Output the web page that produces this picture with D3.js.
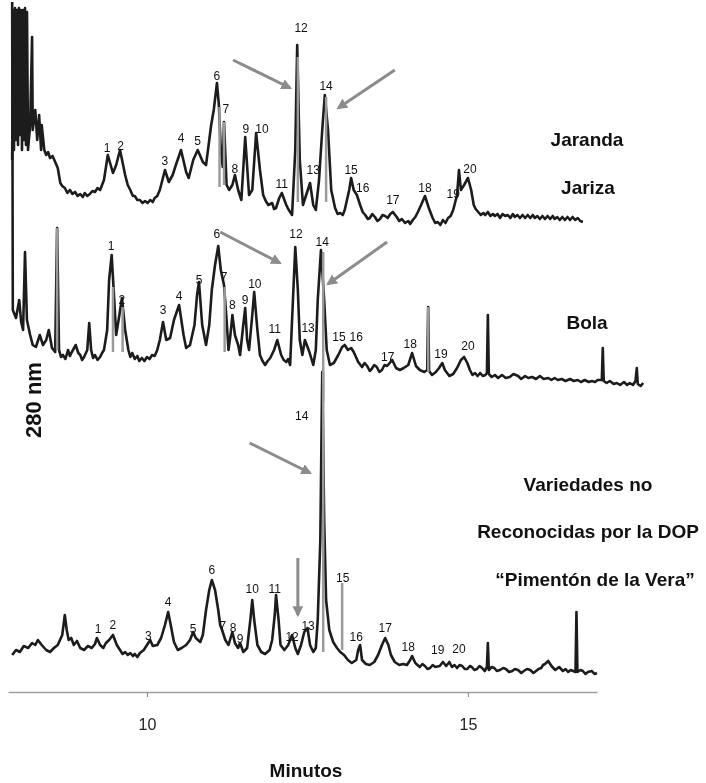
<!DOCTYPE html>
<html><head><meta charset="utf-8">
<script src="https://cdn.jsdelivr.net/npm/d3@7"></script>
<style>
body{margin:0;background:#fff}
svg{display:block;will-change:transform}
text{font-family:"Liberation Sans",Arial,Helvetica,sans-serif;-webkit-font-smoothing:antialiased}
</style>
</head><body>
<svg id="c" width="706" height="783"></svg>
<script>
// ---------- DATA (time in minutes, signal in arbitrary absorbance units at 280 nm) ----------
const timeTicks = [10, 15];
const xTitle = "Minutos";
const yTitle = "280 nm";

const traceJaranda = [
[7.90,13.4],[7.913,43.4],[7.928,15.4],[7.944,43.8],[7.960,17.4],[7.975,43.4],[7.991,16.4],[8.006,43.8],[8.022,18.4],[8.037,43.4],[8.053,15.4],[8.069,43.4],[8.084,17.4],[8.100,43.8],[8.115,16.4],[8.131,43],[8.147,15.4],
[8.18,20.4],[8.21,38],[8.22,19.4],[8.26,23.4],[8.29,17.4],[8.32,22.4],[8.35,15.4],[8.36,20.4],[8.40,15.4],[8.43,14.4],[8.46,15],[8.49,13.8],[8.53,14.2],[8.57,13],[8.61,11.8],[8.65,8.8],[8.68,8.2],[8.72,7.8],[8.76,6.8],[8.80,7.4],[8.84,6.6],[8.88,7],[8.92,6.2],[8.96,6.6],[9.00,6],[9.03,6.8],[9.07,6.2],[9.11,6.6],[9.15,7.2],[9.19,7],[9.23,7.8],[9.27,7.4],[9.33,9.4],[9.39,14.4],[9.47,10.8],[9.52,12.4],[9.58,15.4],[9.66,10.4],[9.70,8.4],[9.74,7.4],[9.78,6.2],[9.81,6.2],[9.85,5.4],[9.89,5.4],[9.93,4.8],[9.97,5.2],[10.01,4.8],[10.05,5.4],[10.09,5],[10.12,5.8],[10.16,6.2],[10.20,7.4],[10.28,11.4],[10.34,9],[10.40,10.4],[10.45,12.4],[10.53,15.4],[10.61,11],[10.65,9.8],[10.72,13.4],[10.79,15.4],[10.87,13],[10.92,12.4],[10.97,17.4],[11.00,20.4],[11.04,23.4],[11.09,28.8],[11.12,24.4],[11.15,15.4],[11.18,12],[11.20,21],[11.24,8.4],[11.28,7.4],[11.33,8.4],[11.37,10.4],[11.42,7.4],[11.47,5.4],[11.53,18],[11.59,6.4],[11.64,7.4],[11.70,18.8],[11.76,11.4],[11.81,6.4],[11.85,5.2],[11.89,4.4],[11.95,4.8],[11.98,3.6],[12.01,3.8],[12.06,5.8],[12.10,6.8],[12.17,4.4],[12.20,3.6],[12.23,3],[12.26,2.4],[12.31,15.4],[12.34,36.4],[12.38,13.4],[12.43,4.4],[12.48,6.4],[12.54,8.8],[12.59,4.4],[12.63,3.4],[12.68,9.4],[12.73,19.4],[12.77,26.4],[12.82,19.4],[12.87,7.4],[12.93,3.8],[12.97,2.6],[13.01,2.8],[13.05,2.4],[13.08,3.4],[13.15,7.4],[13.18,9.8],[13.22,7.4],[13.27,6.4],[13.32,4.4],[13.36,3],[13.40,2.4],[13.44,1.6],[13.47,1.8],[13.51,2.6],[13.55,2],[13.59,1.2],[13.63,1.6],[13.67,2.4],[13.71,2.2],[13.75,1.8],[13.79,2.6],[13.83,3],[13.89,2],[13.93,1.2],[13.97,1.6],[14.02,0.8],[14.07,1.2],[14.10,0.6],[14.14,1.4],[14.18,2],[14.22,3],[14.27,4.4],[14.33,6.2],[14.39,3.8],[14.45,1.8],[14.49,0.8],[14.53,1],[14.57,0.4],[14.61,1.4],[14.65,0.8],[14.69,1.8],[14.73,2.2],[14.77,3.4],[14.83,6.4],[14.86,11.4],[14.89,7.4],[14.94,8.4],[15.00,9.8],[15.05,7.4],[15.09,4.4],[15.12,3.6],[15.16,3],[15.20,2.4],[15.24,2.8],[15.27,2.4],[15.31,3],[15.35,2.2],[15.39,2.6],[15.42,2.2],[15.46,2.6],[15.50,1.8],[15.54,2.6],[15.58,2.2],[15.62,2.4],[15.66,1.8],[15.70,2.6],[15.73,2],[15.77,2.4],[15.81,1.8],[15.85,2.4],[15.89,1.8],[15.93,2.4],[15.97,1.8],[16.01,2.4],[16.04,1.8],[16.08,2.2],[16.12,1.6],[16.16,2.2],[16.20,1.6],[16.24,2.2],[16.28,1.6],[16.32,2.2],[16.35,1.6],[16.39,2],[16.43,1.4],[16.47,2],[16.51,1.4],[16.55,2],[16.59,1.4],[16.63,2],[16.67,1.4],[16.71,1.8],[16.75,1.2],[16.79,1]
];

const traceBola = [
[7.90,79],[7.91,17.4],[7.96,15.8],[8.01,19.4],[8.04,15],[8.07,13.4],[8.10,29],[8.13,15.4],[8.18,12.4],[8.22,10.4],[8.27,10],[8.33,12.4],[8.38,10.4],[8.43,11.4],[8.47,13.4],[8.52,9.8],[8.57,9],[8.60,33.8],[8.63,9.4],[8.66,8],[8.69,8.4],[8.73,7.6],[8.77,9.4],[8.80,8.2],[8.83,9],[8.89,10.4],[8.93,8.8],[8.96,8.4],[8.99,7.4],[9.02,8],[9.07,9.4],[9.10,14.8],[9.13,9.4],[9.16,7.8],[9.19,8.4],[9.23,7.4],[9.27,8],[9.30,8.8],[9.33,9.4],[9.38,13.4],[9.41,23.4],[9.45,28.4],[9.49,19.4],[9.52,12.4],[9.57,16.4],[9.61,19.8],[9.66,13.4],[9.71,9.4],[9.74,8],[9.77,8.8],[9.81,7.6],[9.85,8.2],[9.88,7.2],[9.92,7.8],[9.96,7.2],[10.00,8],[10.04,7.6],[10.08,8.4],[10.12,8.2],[10.16,9.4],[10.20,11.4],[10.25,15],[10.30,11.4],[10.36,11.8],[10.42,15.4],[10.50,18.4],[10.57,12.4],[10.61,9.8],[10.67,10.4],[10.74,14.4],[10.78,20.4],[10.81,23],[10.86,14.4],[10.92,10.4],[10.97,14.4],[11.01,21.4],[11.06,26.4],[11.11,30.2],[11.15,25.4],[11.20,22.4],[11.24,15.4],[11.27,9.4],[11.30,12.4],[11.33,16.4],[11.37,12.4],[11.42,10.4],[11.45,8.4],[11.50,14.4],[11.53,17.8],[11.56,11.4],[11.59,9.4],[11.64,16.4],[11.67,21],[11.72,13.4],[11.76,8.4],[11.80,7.2],[11.84,6.4],[11.88,7.2],[11.92,7.8],[11.98,9.4],[12.03,11.4],[12.09,8.4],[12.13,7.4],[12.17,7],[12.20,7.6],[12.23,6.4],[12.26,15.4],[12.31,30],[12.35,21.4],[12.38,11.4],[12.42,8.4],[12.46,11.4],[12.53,9],[12.59,6.4],[12.63,9.4],[12.66,19.4],[12.71,29.4],[12.76,19.4],[12.80,9.4],[12.85,6.4],[12.91,6.8],[12.98,8.4],[13.04,10],[13.08,10.4],[13.13,9.4],[13.18,9.8],[13.22,9],[13.29,7],[13.35,6],[13.39,6.8],[13.43,6.2],[13.47,5.2],[13.50,5.6],[13.54,6.4],[13.58,6],[13.62,5],[13.66,5.4],[13.70,6.4],[13.74,6.2],[13.82,7.4],[13.88,5.8],[13.94,5.4],[14.00,5.8],[14.07,6.4],[14.13,8.8],[14.19,6.2],[14.25,5.4],[14.32,5],[14.365,5.4],[14.38,18],[14.395,5.2],[14.44,4.4],[14.50,5],[14.55,5.8],[14.60,6.8],[14.64,5.4],[14.71,4.2],[14.77,4.6],[14.83,5.8],[14.89,7.4],[14.94,8],[14.99,6.8],[15.03,5.4],[15.07,4.4],[15.11,4.8],[15.15,4.2],[15.19,4.8],[15.23,4.2],[15.27,4.4],[15.295,4.8],[15.31,16.4],[15.325,4.6],[15.37,4],[15.42,4.4],[15.47,3.8],[15.53,4.4],[15.59,3.8],[15.65,4],[15.71,4.6],[15.78,4.2],[15.83,3.6],[15.89,4.2],[15.94,3.8],[16.00,4],[16.06,3.6],[16.12,4.2],[16.18,3.6],[16.25,3.8],[16.30,3.4],[16.35,3.8],[16.40,3.4],[16.46,3.6],[16.52,3.2],[16.59,3.6],[16.65,3.2],[16.71,3.4],[16.76,3],[16.82,3.4],[16.88,3],[16.93,3.2],[16.98,3],[17.02,3.4],[17.085,3.4],[17.10,9.8],[17.115,3.2],[17.16,2.8],[17.21,3.2],[17.27,2.6],[17.32,2.8],[17.37,2.4],[17.43,3],[17.48,2.4],[17.52,2.8],[17.57,2.4],[17.61,3.2],[17.63,5.8],[17.645,2.6],[17.69,2.2],[17.73,2.8]
];

const traceNoDOP = [
[7.90,7.4],[7.96,8.4],[8.02,8],[8.08,9.2],[8.15,8.8],[8.21,9.8],[8.26,9.4],[8.30,10.4],[8.36,9.4],[8.43,8.4],[8.49,8],[8.55,8.8],[8.61,9.4],[8.68,11.4],[8.72,15.4],[8.75,12.4],[8.78,10.4],[8.82,10.8],[8.86,9.4],[8.91,10.2],[8.96,8.8],[9.02,8.4],[9.08,9.2],[9.14,8.8],[9.19,9.6],[9.22,10.8],[9.27,9.4],[9.32,8.8],[9.36,9.8],[9.41,10.4],[9.47,11.4],[9.53,9.4],[9.58,8.4],[9.62,7.6],[9.66,8],[9.70,7.4],[9.74,7.8],[9.78,7.2],[9.81,7.6],[9.85,7],[9.89,7.8],[9.95,8.4],[10.00,9.4],[10.05,10.4],[10.09,9.2],[10.16,9.4],[10.22,10.8],[10.28,13.4],[10.33,16],[10.37,13.4],[10.42,10],[10.48,8.4],[10.54,8.8],[10.61,9.4],[10.67,10.4],[10.72,12],[10.76,10.8],[10.83,10],[10.87,11.4],[10.92,16.4],[10.97,20.4],[11.01,22.4],[11.06,20.4],[11.11,16.4],[11.14,13.4],[11.17,12.4],[11.22,10.4],[11.27,9.4],[11.33,12],[11.37,9.8],[11.42,8.8],[11.45,9.8],[11.50,8],[11.56,8.8],[11.61,14.4],[11.64,18.4],[11.67,14.4],[11.72,9.4],[11.78,8],[11.84,7.6],[11.91,8.4],[11.95,10.4],[11.99,15.4],[12.01,19.4],[12.05,14.4],[12.08,9.4],[12.14,8.4],[12.20,9.4],[12.26,11.4],[12.31,8.8],[12.35,7.6],[12.40,9.4],[12.45,12],[12.50,12.8],[12.54,9.4],[12.59,8],[12.63,8.8],[12.66,14.4],[12.70,30.4],[12.73,64],[12.76,34.4],[12.79,18.4],[12.84,12.4],[12.90,10],[12.96,8.8],[13.01,8],[13.07,7.4],[13.13,6.4],[13.19,5.8],[13.26,6.4],[13.29,8.4],[13.32,9.4],[13.35,6.4],[13.41,5.6],[13.47,5.4],[13.54,6],[13.60,7.4],[13.66,9.4],[13.71,10.8],[13.76,9.4],[13.80,7.4],[13.86,6],[13.93,5.4],[13.99,5.6],[14.05,5.4],[14.10,6.4],[14.13,7.2],[14.18,5.8],[14.25,5],[14.29,5.6],[14.33,5.2],[14.37,4.6],[14.41,4.8],[14.45,5.4],[14.49,5],[14.56,5.2],[14.61,6],[14.66,5.2],[14.71,6],[14.75,5],[14.79,5.4],[14.83,4.8],[14.87,5.4],[14.91,5.2],[14.95,4.6],[14.99,4.6],[15.03,5.2],[15.06,5],[15.10,4.4],[15.14,4.6],[15.18,5.2],[15.22,4.8],[15.26,4.2],[15.295,5],[15.31,9.8],[15.325,4.4],[15.37,5],[15.41,4.8],[15.45,4.2],[15.50,4.4],[15.55,4.8],[15.59,4.6],[15.64,4],[15.69,4.2],[15.73,4.6],[15.78,4.4],[15.83,3.8],[15.87,4.2],[15.92,4.6],[15.97,4.4],[16.02,3.8],[16.06,4.2],[16.10,4.6],[16.14,4.8],[16.17,5.4],[16.20,5.6],[16.25,6.2],[16.30,5.2],[16.36,4.4],[16.42,5],[16.48,4.2],[16.52,4.6],[16.56,4],[16.60,4.4],[16.64,4.2],[16.675,4],[16.69,16],[16.705,4],[16.75,4.4],[16.79,4.2],[16.83,3.6],[16.87,4],[16.93,4.2],[16.97,3.6],[17.01,3.8]
];

// peak numbers: [label, time, signal]
const peaksJaranda = [["1",9.38,15],["2",9.59,15.4],["3",10.28,12.4],["4",10.53,17],["5",10.79,16.4],["6",11.09,29.4],["7",11.23,22.8],["8",11.37,10.8],["9",11.54,18.8],["10",11.79,18.8],["11",12.10,7.8],["12",12.40,39],["13",12.59,10.6],["14",12.79,27.4],["15",13.18,10.6],["16",13.36,7],["17",13.83,4.6],["18",14.33,7],["19",14.77,5.8],["20",15.03,10.8]];
const peaksBola = [["1",9.44,29.4],["2",9.61,18.6],["3",10.25,16.6],["4",10.50,19.4],["5",10.81,22.6],["6",11.09,31.8],["7",11.20,23.2],["8",11.33,17.6],["9",11.53,18.6],["10",11.68,21.8],["11",11.99,12.8],["12",12.32,31.8],["13",12.51,13],["14",12.73,30.2],["15",12.99,11.2],["16",13.26,11.2],["17",13.75,7.2],["18",14.10,9.8],["19",14.58,7.8],["20",15.00,9.4]];
const peaksNoDOP = [["1",9.24,11.8],["2",9.47,12.6],["3",10.02,10.4],["4",10.33,17.2],["5",10.72,11.8],["6",11.01,23.6],["7",11.18,12.4],["8",11.34,12],["9",11.45,9.8],["10",11.64,19.8],["11",11.99,19.8],["12",12.26,10.2],["13",12.51,12.4],["14",12.41,54.4],["15",13.05,22],["16",13.26,10.2],["17",13.71,12],["18",14.07,8.2],["19",14.53,7.6],["20",14.86,7.8]];

// grey highlighted peaks: [time, top signal, bottom signal]
const greyJaranda = [[11.13,24,8],[11.20,21,8.4],[12.35,34,5],[12.79,26,5]];
const greyBola = [[8.60,33.8,9.4],[9.47,22,9],[9.62,18,9],[11.21,22,9],[12.745,29,-1],[14.38,18,5]];
const greyNoDOP = [[12.745,64,8],[13.04,21.8,8.4]];

// arrows: [t1, s1, t2, s2]
const arrowsJaranda = [[11.34,33.4,12.23,27.8],[13.86,31.4,12.98,23.8]];
const arrowsBola = [[11.14,33,12.07,26.8],[13.74,31,12.82,22.6]];
const arrowsNoDOP = [[11.60,49.8,12.54,43.8],[12.35,26.8,12.35,15.4]];

const sampleNames = [["Jaranda","Jariza"],["Bola"],["Variedades no","Reconocidas por la DOP","\u201cPiment\u00f3n de la Vera\u201d"]];

// ---------- LAYOUT ----------
const traceOffsets = [93, 59, 0];
const nameLayout = [[[587,146],[588,194]],[[587,329]],[[588,491],[588,538],[595,586]]];

const svg = d3.select("#c");
const x = d3.scaleLinear().domain([7.835, 17.01]).range([8, 597]);
const y = d3.scaleLinear().domain([0, 138.4]).range([692, 0]);

const defs = svg.append("defs");
defs.append("marker").attr("id","ah").attr("viewBox","0 0 10 10").attr("refX",8).attr("refY",5)
  .attr("markerWidth",3.6).attr("markerHeight",3.6).attr("orient","auto")
  .append("path").attr("d","M0,0 L10,5 L0,10 z").attr("fill","#8c8c8c");

// axis
const ax = svg.append("g").attr("transform","translate(0,692)")
  .call(d3.axisBottom(x).tickValues(timeTicks).tickSize(5).tickSizeOuter(0).tickPadding(22).tickFormat(d3.format("d")));
ax.select(".domain").attr("stroke","#a0a0a0").attr("stroke-width",1.5);
ax.selectAll(".tick line").attr("stroke","#909090").attr("stroke-width",1.2);
ax.selectAll(".tick text").attr("font-size",16).attr("fill","#222").attr("font-family","Liberation Sans, Arial, sans-serif");

svg.append("text").attr("x",306).attr("y",777).attr("text-anchor","middle")
  .attr("font-size",19).attr("font-weight","bold").attr("fill","#111").text(xTitle);
svg.append("text").attr("transform","translate(41,400) rotate(-90)").attr("text-anchor","middle")
  .attr("font-size",22).attr("font-weight","bold").attr("fill","#111").text(yTitle);

const traces = [
  {data: traceJaranda, peaks: peaksJaranda, grey: greyJaranda, arrows: arrowsJaranda},
  {data: traceBola, peaks: peaksBola, grey: greyBola, arrows: arrowsBola},
  {data: traceNoDOP, peaks: peaksNoDOP, grey: greyNoDOP, arrows: arrowsNoDOP}
];

// draw bottom first so upper traces sit on top
[2,1,0].forEach(i => {
  const tr = traces[i], off = traceOffsets[i];
  const g = svg.append("g");
  const ln = d3.line().x(d => x(d[0])).y(d => y(d[1] + off));
  g.append("path").datum(tr.data).attr("d", ln).attr("fill","none")
    .attr("stroke","#1c1c1c").attr("stroke-width",2.6).attr("stroke-linejoin","round");
  g.selectAll("line.grey").data(tr.grey).join("line").attr("class","grey")
    .attr("x1", d => x(d[0])).attr("x2", d => x(d[0]))
    .attr("y1", d => y(d[1] + off)).attr("y2", d => y(d[2] + off))
    .attr("stroke","#9a9a9a").attr("stroke-width",2.5);
  g.selectAll("text.pk").data(tr.peaks).join("text").attr("class","pk")
    .attr("x", d => x(d[1])).attr("y", d => y(d[2] + off)).attr("text-anchor","middle")
    .attr("font-size",12).attr("fill","#111").text(d => d[0]);
  g.selectAll("line.arr").data(tr.arrows).join("line").attr("class","arr")
    .attr("x1", d => x(d[0])).attr("y1", d => y(d[1] + off))
    .attr("x2", d => x(d[2])).attr("y2", d => y(d[3] + off))
    .attr("stroke","#8c8c8c").attr("stroke-width",3).attr("marker-end","url(#ah)");
});

sampleNames.forEach((names, i) => {
  names.forEach((n, j) => {
    const p = nameLayout[i][j];
    svg.append("text").attr("x", p[0]).attr("y", p[1]).attr("text-anchor","middle")
      .attr("font-size",19).attr("font-weight","bold").attr("fill","#111").text(n);
  });
});
</script>
</body></html>
